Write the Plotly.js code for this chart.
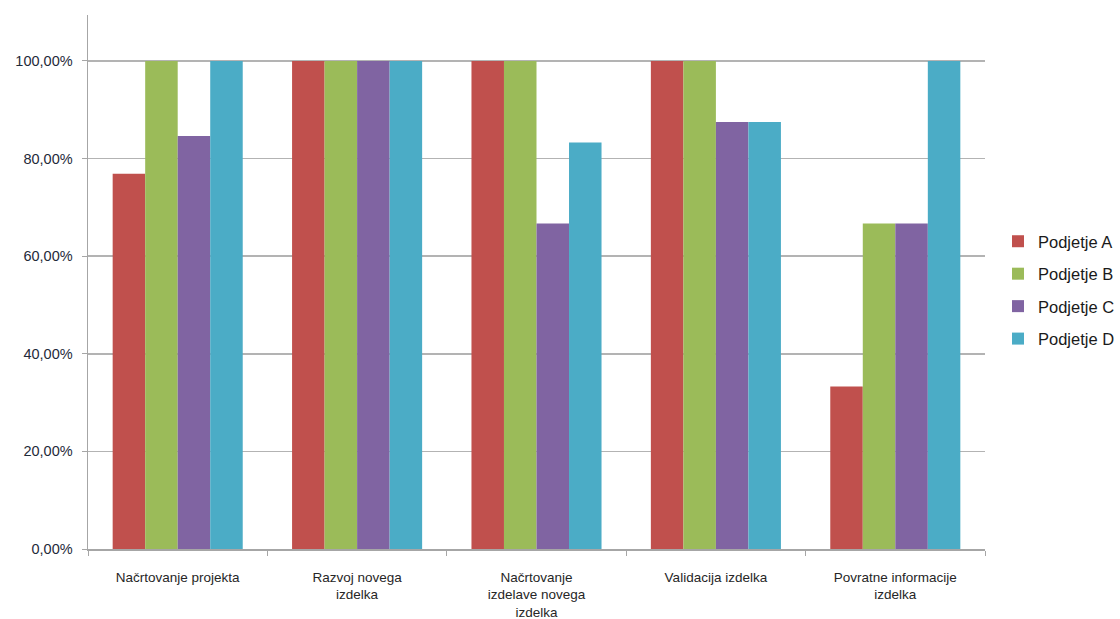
<!DOCTYPE html>
<html>
<head>
<meta charset="utf-8">
<script src="https://cdn.plot.ly/plotly-3.0.1.min.js"></script>
<style>html,body{margin:0;padding:0;background:#fff;}#chart{width:1120px;height:619px;}</style>
</head>
<body>
<div id="chart"></div>
<script>
const categories = ["Načrtovanje projekta", "Razvoj novega izdelka", "Načrtovanje izdelave novega izdelka", "Validacija izdelka", "Povratne informacije izdelka"];
const tickLabels = ["Načrtovanje projekta", "Razvoj novega<br>izdelka", "Načrtovanje<br>izdelave novega<br>izdelka", "Validacija izdelka", "Povratne informacije<br>izdelka"];
const seriesNames = ["Podjetje A", "Podjetje B", "Podjetje C", "Podjetje D"];
const podjetjeA = [0.769, 1.0, 1.0, 1.0, 0.333];
const podjetjeB = [1.0, 1.0, 1.0, 1.0, 0.667];
const podjetjeC = [0.846, 1.0, 0.667, 0.875, 0.667];
const podjetjeD = [1.0, 1.0, 0.833, 0.875, 1.0];
const colors = ["#C0504D", "#9BBB59", "#8064A2", "#4BACC6"];
const yTicks = [0, 0.2, 0.4, 0.6, 0.8, 1.0];

const allSeries = [podjetjeA, podjetjeB, podjetjeC, podjetjeD];
const traces = allSeries.map((vals, i) => ({
  type: "bar",
  name: seriesNames[i],
  legendgroup: "g" + i,
  x: categories,
  y: vals,
  marker: {color: colors[i], line: {width: 0}},
  hoverinfo: "skip"
}));

const layout = {
  width: 1120, height: 619,
  margin: {l: 88, r: 135, t: 15, b: 70, autoexpand: false},
  paper_bgcolor: "#ffffff", plot_bgcolor: "#ffffff",
  separators: ", ",
  font: {family: "Liberation Sans, Arial, sans-serif", size: 12, color: "#262626"},
  barmode: "group",
  bargap: 0.275,
  bargroupgap: 0,
  showlegend: true,
  legend: {
    x: 1.0145, xanchor: "left", y: 0.485, yanchor: "middle",
    font: {family: "Liberation Sans, Arial, sans-serif", size: 16.5, color: "#1a1a1a"},
    tracegroupgap: 8, bgcolor: "rgba(0,0,0,0)", borderwidth: 0
  },
  xaxis: {
    type: "category",
    tickmode: "array", tickvals: categories, ticktext: tickLabels,
    tickson: "boundaries", ticks: "outside", ticklen: 5, tickcolor: "#a6a6a6",
    showline: true, linecolor: "#a6a6a6", linewidth: 1.5,
    showgrid: false, zeroline: false,
    tickfont: {family: "Liberation Sans, Arial, sans-serif", size: 13.5, color: "#262626"},
    ticklabelstandoff: 15
  },
  yaxis: {
    range: [0, 1.094],
    tickmode: "array", tickvals: yTicks, tickformat: ".2%",
    ticks: "outside", ticklen: 5, tickcolor: "#a6a6a6",
    showline: true, linecolor: "#a6a6a6", linewidth: 1.5,
    showgrid: true, gridcolor: "#b3b3b3", gridwidth: 1.5,
    zeroline: false,
    tickfont: {family: "Liberation Sans, Arial, sans-serif", size: 14.5, color: "#1f2a3a"},
    ticklabelstandoff: 6
  }
};

Plotly.newPlot("chart", traces, layout, {displayModeBar: false, staticPlot: true});
</script>
</body>
</html>
